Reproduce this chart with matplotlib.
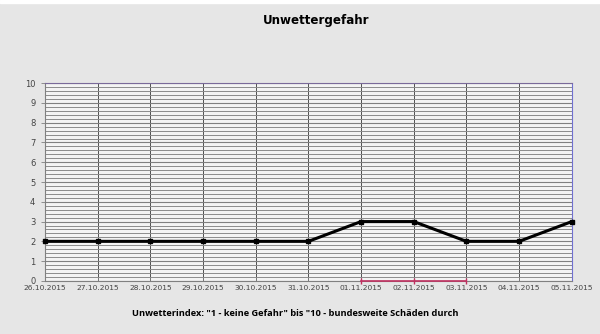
import matplotlib
matplotlib.use("Agg")
import matplotlib.pyplot as plt
import numpy as np
from matplotlib.ticker import MultipleLocator

dates = ["26.10.2015", "27.10.2015", "28.10.2015", "29.10.2015", "30.10.2015",
         "31.10.2015", "01.11.2015", "02.11.2015", "03.11.2015", "04.11.2015",
         "05.11.2015"]
values = [2, 2, 2, 2, 2, 2, 3, 3, 2, 2, 3]
highlight = ["01.11.2015", "02.11.2015", "03.11.2015"]
title = "Unwettergefahr"
xlabel = 'Unwetterindex: "1 - keine Gefahr" bis "10 - bundesweite Schäden durch'

bg = "#e6e6e6"
fig = plt.figure(figsize=(6, 3.34), dpi=100, facecolor=bg)
ax = fig.add_axes([0.075, 0.159, 0.878, 0.592])
ax.set_facecolor("#f4f4f4")

x = np.arange(len(dates))
ax.set_xlim(0, len(dates) - 1)
ax.set_ylim(0, 10)

ax.yaxis.set_major_locator(MultipleLocator(1))
ax.yaxis.set_minor_locator(MultipleLocator(0.2))
ax.grid(True, which="major", axis="y", color="#808080", lw=0.8)
ax.grid(True, which="minor", axis="y", color="#8c8c8c", lw=0.7)
ax.grid(True, which="major", axis="x", color="#505050", lw=0.7)
ax.tick_params(axis="y", which="minor", length=0)
ax.tick_params(axis="y", which="major", length=3, width=0.6, color="#808080",
               labelsize=6, labelcolor="#444444", pad=4)
ax.set_xticks(x)
ax.set_xticklabels(dates)
ax.tick_params(axis="x", length=3, width=0.6, color="#808080",
               labelsize=5.4, labelcolor="#444444", pad=3, direction="in")

ax.plot(x, values, color="black", lw=2.2, marker="s", ms=3, zorder=5,
        clip_on=False)

hx = [dates.index(d) for d in highlight]
ax.plot(hx, [0] * len(hx), color="#c03060", lw=1.2, marker="|", ms=4,
        mew=1.0, zorder=6, clip_on=False)

for side, c in [("top", "#7a6a9a"), ("right", "#7070d0"),
                ("left", "#808080"), ("bottom", "#808080")]:
    ax.spines[side].set_color(c)
    ax.spines[side].set_linewidth(0.8)

fig.text(0.527, 0.94, title, ha="center", va="center", fontsize=8.6,
         fontweight="bold", family="DejaVu Sans")
fig.text(0.492, 0.062, xlabel, ha="center", va="center", fontsize=6.7,
         fontweight="bold", family="Open Sans")

# spreadsheet cell row at top
fig.patches.append(plt.Rectangle((0, 0.99), 1, 0.01, transform=fig.transFigure,
                                 color="white", zorder=0))

fig.savefig("out.png", dpi=100, facecolor=bg)
